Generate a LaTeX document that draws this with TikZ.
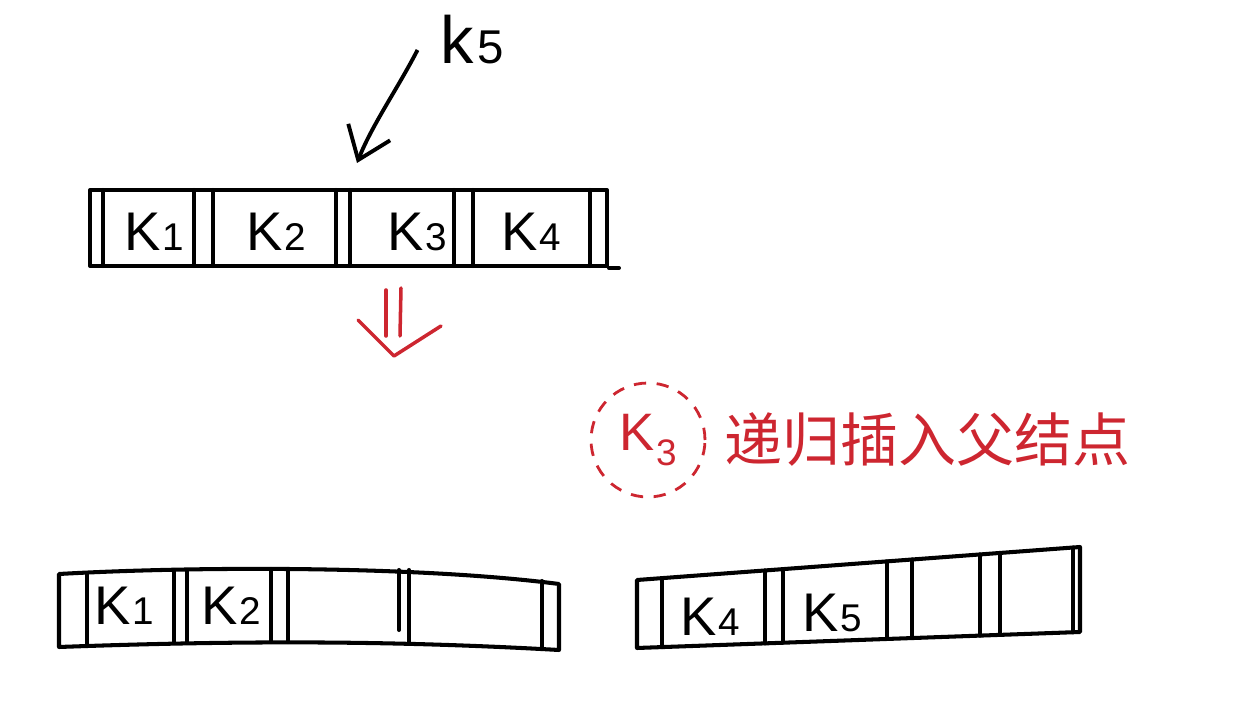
\documentclass[tikz,border=0pt]{standalone}
\usepackage{fontspec}
\setmainfont{Liberation Sans}
\newfontfamily\cjk{Noto Sans CJK SC}
\usetikzlibrary{arrows.meta,positioning,calc}
\definecolor{inkred}{RGB}{205,38,48}
\tikzset{
  boxln/.style={line width=2.3pt, line join=round, line cap=round},
  sepln/.style={line width=2.3pt, line cap=round},
  keytxt/.style={font=\fontsize{31}{34}\selectfont, inner sep=0pt},
  ptrln/.style={-{Straight Barb[length=6mm,width=9mm]}, line width=2.2pt},
  redln/.style={line width=2pt, line cap=round, line join=round, inkred},
}
\newcommand{\kk}[1]{K\kern1pt{\fontsize{22}{22}\selectfont #1}}

\begin{document}
\begin{tikzpicture}[x=0.02cm, y=-0.02cm]
  \useasboundingbox (0,0) rectangle (1259,712);
  % node before the split
  \node[boxln, draw, inner sep=0pt, minimum width=10.34cm, minimum height=1.52cm]
    (full) at (348.5,228) {};
  \foreach \s in {103,194,213,336,350,454,473,590}
    \draw[sepln] (\s,190) -- (\s,266);
  \draw[boxln] (full.south east) -- ++(10,0);
  \node[keytxt] (fa) at (154,232) {\kk{1}};
  \node[keytxt] (fb) at (276,232) {\kk{2}};
  \node[keytxt] (fc) at (417,232) {\kk{3}};
  \node[keytxt] (fd) at (531,232) {\kk{4}};
  % new key
  \node[keytxt, font=\fontsize{38}{40}\selectfont] (newkey) at (472,40)
    {k\kern2pt{\fontsize{27}{27}\selectfont 5}};
  \coordinate (slot) at (357,163);
  \draw[ptrln] ([xshift=-0.45cm,yshift=-0.2cm]newkey.west)
    .. controls (398,88) and (372,125) .. (slot);
  % split
  \draw[redln] (386,290) -- (386,336);
  \draw[redln] (401,288) -- (400,336);
  \draw[redln] (358,320) -- (394,356) -- (441,326);
  \node[circle, draw, inkred, line width=1.6pt, dash pattern=on 7pt off 6pt,
    minimum size=2.28cm, inner sep=0pt, font=\fontsize{30}{32}\selectfont]
    (mid) at (648,440)
    {K\kern1pt\raisebox{-9pt}{\fontsize{21}{21}\selectfont 3}};
  \node[keytxt, inkred, font=\cjk\fontsize{33}{36}\selectfont, right=0.35cm of mid]
    (note) {递归插入父结点};
  % left half
  \draw[boxln] (59,574) .. controls (200,566) and (420,566) .. (559,584)
    -- (559,650) .. controls (400,641) and (250,640) .. (59,647) -- cycle;
  \foreach \s/\a/\b in {87/573/646,174/570/643,187/570/643,271/569/642,
    288/569/642,399/570/630,409/570/643,542/581/649}
    \draw[sepln] (\s,\a) -- (\s,\b);
  \node[keytxt] (la) at (124,606) {\kk{1}};
  \node[keytxt] (lb) at (231,606) {\kk{2}};
  % right half
  \coordinate (tl) at (637,580);
  \coordinate (tr) at (1080,547);
  \coordinate (br) at (1080,632);
  \coordinate (bl) at (637,648);
  \draw[boxln] (tl) -- (tr) -- (br) -- (bl) -- cycle;
  \foreach \t in {0.056,0.289,0.330,0.564,0.621,0.774,0.819,0.984}
    \draw[sepln] ($(tl)!\t!(tr)$) -- ($(bl)!\t!(br)$);
  \node[keytxt] (ra) at (710,617) {\kk{4}};
  \node[keytxt] (rb) at (832,613) {\kk{5}};
\end{tikzpicture}
\end{document}
